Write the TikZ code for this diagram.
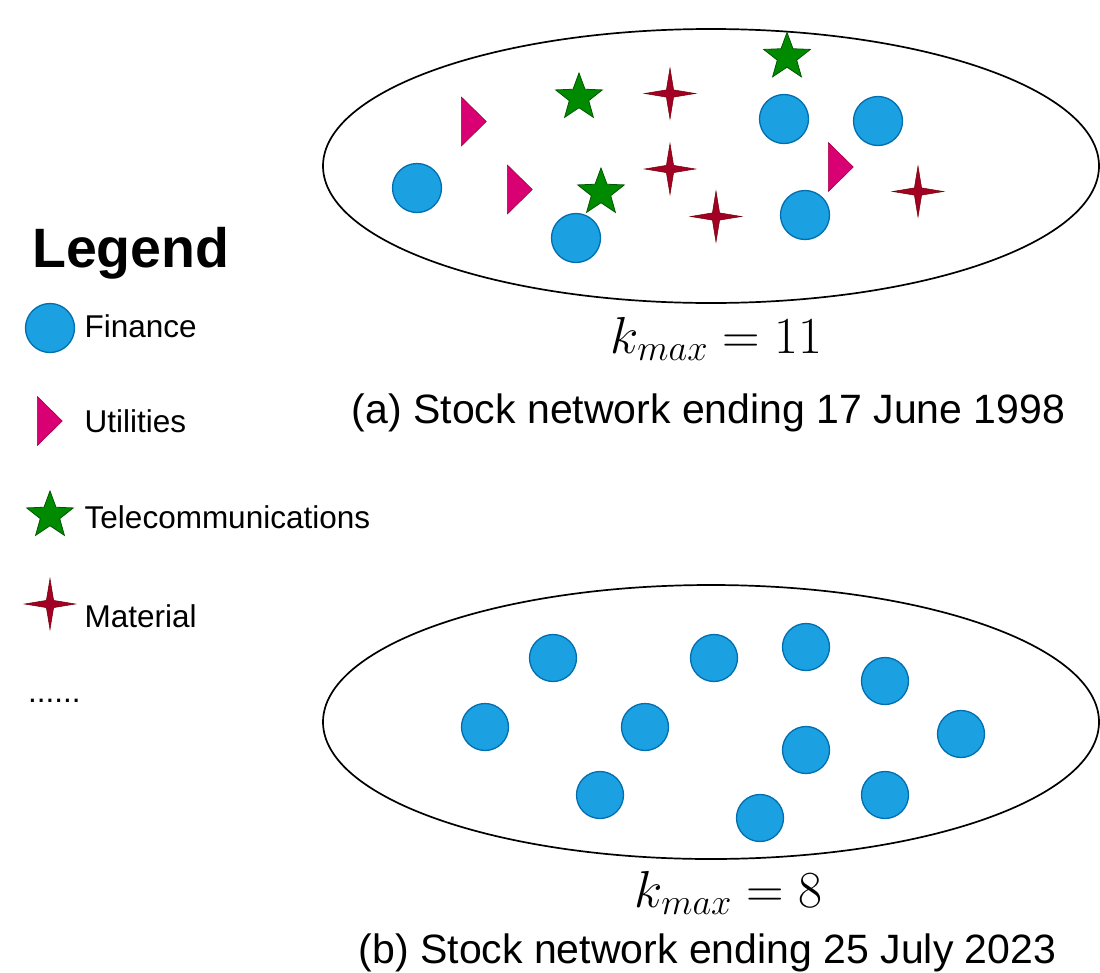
\RequirePackage{fix-cm}
\documentclass[tikz,border=0pt]{standalone}
\usepackage[no-math]{fontspec}
\setmainfont{Liberation Sans}
\usepackage{amsmath}
\usepackage{tikz}
\usetikzlibrary{shapes.geometric}
\definecolor{finfill}{HTML}{1BA1E2}
\definecolor{finline}{HTML}{006EAF}
\definecolor{utilfill}{HTML}{D80073}
\definecolor{utilline}{HTML}{A50040}
\definecolor{telfill}{HTML}{008A00}
\definecolor{telline}{HTML}{005700}
\definecolor{matfill}{HTML}{A20025}
\definecolor{matline}{HTML}{6F0000}
\tikzset{
  net/.style={ellipse,draw,line width=1.7pt,minimum width=776pt,minimum height=274pt,inner sep=0pt},
  fin/.style={circle,draw=finline,fill=finfill,line width=1.3pt,minimum size=49pt,inner sep=0pt},
  finb/.style={fin,minimum size=47pt},
  util/.style={isosceles triangle,isosceles triangle stretches,draw=utilline,fill=utilfill,line width=0.6pt,
    minimum width=49pt,minimum height=25pt,inner sep=0pt,anchor=lower side},
  tel/.style={star,star points=5,star point ratio=2.4,draw=telline,fill=telfill,line width=0.8pt,minimum size=49pt,inner sep=0pt},
  mat/.style={star,star points=4,star point ratio=5,draw=matline,fill=matfill,line width=0.5pt,minimum size=51pt,inner sep=0pt},
  item/.style={anchor=base west,inner sep=0pt,font=\fontsize{31.5}{36}\selectfont},
  kval/.style={anchor=base,inner sep=0pt,font=\fontsize{52}{58}\selectfont},
  capt/.style={anchor=base,inner sep=0pt,font=\fontsize{41}{48}\selectfont}
}

\begin{document}
\begin{tikzpicture}[x=1pt,y=-1pt]
    \useasboundingbox (0,0) rectangle (1100,972);
    \draw
    (711,166) node[net] (netA) {}
    (711,722) node[net] (netB) {};
    \draw
    (417,188) node[fin] (fA1) {}
    (576,238) node[fin] (fA2) {}
    (784,119) node[fin] (fA3) {}
    (878,121) node[fin] (fA4) {}
    (805,215) node[fin] (fA5) {}
    (461,121.5) node[util] (uA1) {}
    (507,189.5) node[util] (uA2) {}
    (828,167) node[util] (uA3) {}
    (579,97.5) node[tel] (tA1) {}
    (601,192.5) node[tel] (tA2) {}
    (787,57) node[tel] (tA3) {}
    (670,93.5) node[mat] (mA1) {}
    (670,169) node[mat] (mA2) {}
    (716,216.5) node[mat] (mA3) {}
    (918,191.5) node[mat] (mA4) {};
    \draw
    (553,658) node[finb] (fB1) {}
    (714,658) node[finb] (fB2) {}
    (806,647) node[finb] (fB3) {}
    (885,681) node[finb] (fB4) {}
    (485,727) node[finb] (fB5) {}
    (645,727) node[finb] (fB6) {}
    (806,750) node[finb] (fB7) {}
    (961,734) node[finb] (fB8) {}
    (600,795) node[finb] (fB9) {}
    (760,818) node[finb] (fB10) {}
    (885,795) node[finb] (fB11) {};
    \draw
    (32,267) node[anchor=base west,inner sep=0pt,font=\fontsize{55.5}{60}\selectfont\bfseries] (legend) {Legend}
    (50,328) node[fin] (keyFin) {}
    (37,421) node[util] (keyUtil) {}
    (50,515.5) node[tel] (keyTel) {}
    (50,604) node[mat] (keyMat) {}
    (84.5,337) node[item] (txtFin) {Finance}
    (84.5,432) node[item] (txtUtil) {Utilities}
    (84.5,528) node[item] (txtTel) {Telecommunications}
    (84.5,627) node[item] (txtMat) {Material}
    (28,702) node[item] (txtMore) {......};
    \draw
    (716.5,353) node[kval] (kA) {$k_{max} = 11$}
    (708.5,423) node[capt] (capA) {(a) Stock network ending 17 June 1998}
    (728.5,907) node[kval] (kB) {$k_{max} = 8$}
    (707.5,963) node[capt] (capB) {(b) Stock network ending 25 July 2023};
  \end{tikzpicture}
\end{document}
